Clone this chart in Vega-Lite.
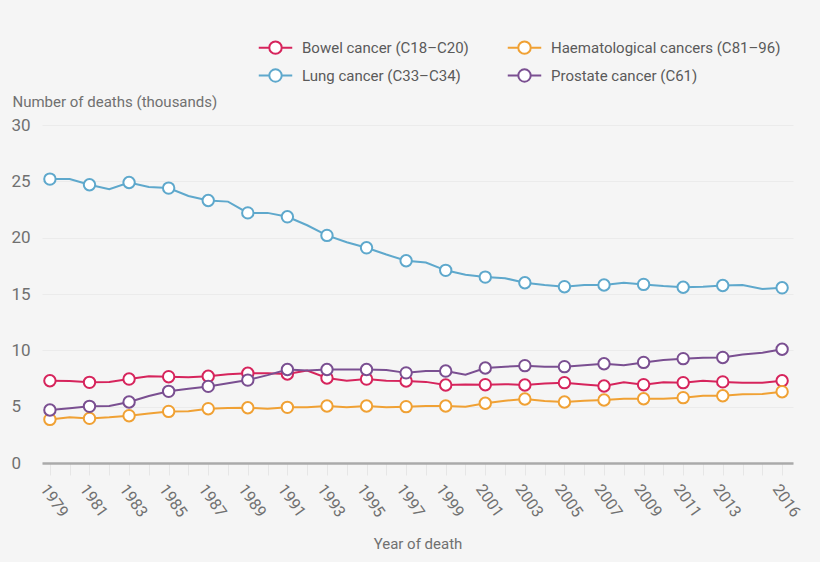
{
  "$schema": "https://vega.github.io/schema/vega-lite/v6.json",
  "width": 751,
  "height": 338,
  "autosize": {"type": "none"},
  "padding": {"left": 42, "top": 125, "right": 27, "bottom": 99},
  "background": "#f5f5f5",
  "config": {
    "view": {"stroke": null},
    "font": "Roboto",
    "axis": {"labelColor": "#707070", "titleColor": "#707070", "labelFont": "Roboto", "titleFont": "Roboto", "titleFontWeight": "normal"},
    "legend": {"labelColor": "#5a5a5a", "labelFont": "Roboto"}
  },
  "data": {
    "values": [
      {"year": 1979, "cancer": "Bowel cancer (C18–C20)", "deaths": 7.3},
      {"year": 1980, "cancer": "Bowel cancer (C18–C20)", "deaths": 7.28},
      {"year": 1981, "cancer": "Bowel cancer (C18–C20)", "deaths": 7.16},
      {"year": 1982, "cancer": "Bowel cancer (C18–C20)", "deaths": 7.2},
      {"year": 1983, "cancer": "Bowel cancer (C18–C20)", "deaths": 7.45},
      {"year": 1984, "cancer": "Bowel cancer (C18–C20)", "deaths": 7.7},
      {"year": 1985, "cancer": "Bowel cancer (C18–C20)", "deaths": 7.66},
      {"year": 1986, "cancer": "Bowel cancer (C18–C20)", "deaths": 7.6},
      {"year": 1987, "cancer": "Bowel cancer (C18–C20)", "deaths": 7.7},
      {"year": 1988, "cancer": "Bowel cancer (C18–C20)", "deaths": 7.87},
      {"year": 1989, "cancer": "Bowel cancer (C18–C20)", "deaths": 7.96},
      {"year": 1990, "cancer": "Bowel cancer (C18–C20)", "deaths": 7.96},
      {"year": 1991, "cancer": "Bowel cancer (C18–C20)", "deaths": 7.9},
      {"year": 1992, "cancer": "Bowel cancer (C18–C20)", "deaths": 8.2},
      {"year": 1993, "cancer": "Bowel cancer (C18–C20)", "deaths": 7.54},
      {"year": 1994, "cancer": "Bowel cancer (C18–C20)", "deaths": 7.3},
      {"year": 1995, "cancer": "Bowel cancer (C18–C20)", "deaths": 7.45},
      {"year": 1996, "cancer": "Bowel cancer (C18–C20)", "deaths": 7.3},
      {"year": 1997, "cancer": "Bowel cancer (C18–C20)", "deaths": 7.28},
      {"year": 1998, "cancer": "Bowel cancer (C18–C20)", "deaths": 7.2},
      {"year": 1999, "cancer": "Bowel cancer (C18–C20)", "deaths": 6.92},
      {"year": 2000, "cancer": "Bowel cancer (C18–C20)", "deaths": 6.97},
      {"year": 2001, "cancer": "Bowel cancer (C18–C20)", "deaths": 6.95},
      {"year": 2002, "cancer": "Bowel cancer (C18–C20)", "deaths": 7.0},
      {"year": 2003, "cancer": "Bowel cancer (C18–C20)", "deaths": 6.92},
      {"year": 2004, "cancer": "Bowel cancer (C18–C20)", "deaths": 7.05},
      {"year": 2005, "cancer": "Bowel cancer (C18–C20)", "deaths": 7.13},
      {"year": 2006, "cancer": "Bowel cancer (C18–C20)", "deaths": 6.97},
      {"year": 2007, "cancer": "Bowel cancer (C18–C20)", "deaths": 6.83},
      {"year": 2008, "cancer": "Bowel cancer (C18–C20)", "deaths": 7.16},
      {"year": 2009, "cancer": "Bowel cancer (C18–C20)", "deaths": 6.95},
      {"year": 2010, "cancer": "Bowel cancer (C18–C20)", "deaths": 7.16},
      {"year": 2011, "cancer": "Bowel cancer (C18–C20)", "deaths": 7.13},
      {"year": 2012, "cancer": "Bowel cancer (C18–C20)", "deaths": 7.3},
      {"year": 2013, "cancer": "Bowel cancer (C18–C20)", "deaths": 7.2},
      {"year": 2014, "cancer": "Bowel cancer (C18–C20)", "deaths": 7.13},
      {"year": 2015, "cancer": "Bowel cancer (C18–C20)", "deaths": 7.13},
      {"year": 2016, "cancer": "Bowel cancer (C18–C20)", "deaths": 7.3},
      {"year": 1979, "cancer": "Haematological cancers (C81–96)", "deaths": 3.87},
      {"year": 1980, "cancer": "Haematological cancers (C81–96)", "deaths": 4.05},
      {"year": 1981, "cancer": "Haematological cancers (C81–96)", "deaths": 3.96},
      {"year": 1982, "cancer": "Haematological cancers (C81–96)", "deaths": 4.05},
      {"year": 1983, "cancer": "Haematological cancers (C81–96)", "deaths": 4.2},
      {"year": 1984, "cancer": "Haematological cancers (C81–96)", "deaths": 4.4},
      {"year": 1985, "cancer": "Haematological cancers (C81–96)", "deaths": 4.58},
      {"year": 1986, "cancer": "Haematological cancers (C81–96)", "deaths": 4.6},
      {"year": 1987, "cancer": "Haematological cancers (C81–96)", "deaths": 4.82},
      {"year": 1988, "cancer": "Haematological cancers (C81–96)", "deaths": 4.88},
      {"year": 1989, "cancer": "Haematological cancers (C81–96)", "deaths": 4.9},
      {"year": 1990, "cancer": "Haematological cancers (C81–96)", "deaths": 4.82},
      {"year": 1991, "cancer": "Haematological cancers (C81–96)", "deaths": 4.94},
      {"year": 1992, "cancer": "Haematological cancers (C81–96)", "deaths": 4.94},
      {"year": 1993, "cancer": "Haematological cancers (C81–96)", "deaths": 5.06},
      {"year": 1994, "cancer": "Haematological cancers (C81–96)", "deaths": 4.94},
      {"year": 1995, "cancer": "Haematological cancers (C81–96)", "deaths": 5.06},
      {"year": 1996, "cancer": "Haematological cancers (C81–96)", "deaths": 4.94},
      {"year": 1997, "cancer": "Haematological cancers (C81–96)", "deaths": 5.0},
      {"year": 1998, "cancer": "Haematological cancers (C81–96)", "deaths": 5.06},
      {"year": 1999, "cancer": "Haematological cancers (C81–96)", "deaths": 5.06},
      {"year": 2000, "cancer": "Haematological cancers (C81–96)", "deaths": 5.0},
      {"year": 2001, "cancer": "Haematological cancers (C81–96)", "deaths": 5.3},
      {"year": 2002, "cancer": "Haematological cancers (C81–96)", "deaths": 5.53},
      {"year": 2003, "cancer": "Haematological cancers (C81–96)", "deaths": 5.68},
      {"year": 2004, "cancer": "Haematological cancers (C81–96)", "deaths": 5.5},
      {"year": 2005, "cancer": "Haematological cancers (C81–96)", "deaths": 5.41},
      {"year": 2006, "cancer": "Haematological cancers (C81–96)", "deaths": 5.53},
      {"year": 2007, "cancer": "Haematological cancers (C81–96)", "deaths": 5.59},
      {"year": 2008, "cancer": "Haematological cancers (C81–96)", "deaths": 5.7},
      {"year": 2009, "cancer": "Haematological cancers (C81–96)", "deaths": 5.7},
      {"year": 2010, "cancer": "Haematological cancers (C81–96)", "deaths": 5.7},
      {"year": 2011, "cancer": "Haematological cancers (C81–96)", "deaths": 5.8},
      {"year": 2012, "cancer": "Haematological cancers (C81–96)", "deaths": 5.97},
      {"year": 2013, "cancer": "Haematological cancers (C81–96)", "deaths": 5.97},
      {"year": 2014, "cancer": "Haematological cancers (C81–96)", "deaths": 6.1},
      {"year": 2015, "cancer": "Haematological cancers (C81–96)", "deaths": 6.12},
      {"year": 2016, "cancer": "Haematological cancers (C81–96)", "deaths": 6.33},
      {"year": 1979, "cancer": "Lung cancer (C33–C34)", "deaths": 25.2},
      {"year": 1980, "cancer": "Lung cancer (C33–C34)", "deaths": 25.2},
      {"year": 1981, "cancer": "Lung cancer (C33–C34)", "deaths": 24.7},
      {"year": 1982, "cancer": "Lung cancer (C33–C34)", "deaths": 24.3},
      {"year": 1983, "cancer": "Lung cancer (C33–C34)", "deaths": 24.9},
      {"year": 1984, "cancer": "Lung cancer (C33–C34)", "deaths": 24.5},
      {"year": 1985, "cancer": "Lung cancer (C33–C34)", "deaths": 24.4},
      {"year": 1986, "cancer": "Lung cancer (C33–C34)", "deaths": 23.7},
      {"year": 1987, "cancer": "Lung cancer (C33–C34)", "deaths": 23.3},
      {"year": 1988, "cancer": "Lung cancer (C33–C34)", "deaths": 23.2},
      {"year": 1989, "cancer": "Lung cancer (C33–C34)", "deaths": 22.2},
      {"year": 1990, "cancer": "Lung cancer (C33–C34)", "deaths": 22.2},
      {"year": 1991, "cancer": "Lung cancer (C33–C34)", "deaths": 21.85},
      {"year": 1992, "cancer": "Lung cancer (C33–C34)", "deaths": 21.1},
      {"year": 1993, "cancer": "Lung cancer (C33–C34)", "deaths": 20.2},
      {"year": 1994, "cancer": "Lung cancer (C33–C34)", "deaths": 19.6},
      {"year": 1995, "cancer": "Lung cancer (C33–C34)", "deaths": 19.1},
      {"year": 1996, "cancer": "Lung cancer (C33–C34)", "deaths": 18.5},
      {"year": 1997, "cancer": "Lung cancer (C33–C34)", "deaths": 17.95},
      {"year": 1998, "cancer": "Lung cancer (C33–C34)", "deaths": 17.8},
      {"year": 1999, "cancer": "Lung cancer (C33–C34)", "deaths": 17.1},
      {"year": 2000, "cancer": "Lung cancer (C33–C34)", "deaths": 16.7},
      {"year": 2001, "cancer": "Lung cancer (C33–C34)", "deaths": 16.5},
      {"year": 2002, "cancer": "Lung cancer (C33–C34)", "deaths": 16.4},
      {"year": 2003, "cancer": "Lung cancer (C33–C34)", "deaths": 16.0},
      {"year": 2004, "cancer": "Lung cancer (C33–C34)", "deaths": 15.8},
      {"year": 2005, "cancer": "Lung cancer (C33–C34)", "deaths": 15.65},
      {"year": 2006, "cancer": "Lung cancer (C33–C34)", "deaths": 15.8},
      {"year": 2007, "cancer": "Lung cancer (C33–C34)", "deaths": 15.8},
      {"year": 2008, "cancer": "Lung cancer (C33–C34)", "deaths": 16.0},
      {"year": 2009, "cancer": "Lung cancer (C33–C34)", "deaths": 15.85},
      {"year": 2010, "cancer": "Lung cancer (C33–C34)", "deaths": 15.7},
      {"year": 2011, "cancer": "Lung cancer (C33–C34)", "deaths": 15.6},
      {"year": 2012, "cancer": "Lung cancer (C33–C34)", "deaths": 15.65},
      {"year": 2013, "cancer": "Lung cancer (C33–C34)", "deaths": 15.75},
      {"year": 2014, "cancer": "Lung cancer (C33–C34)", "deaths": 15.8},
      {"year": 2015, "cancer": "Lung cancer (C33–C34)", "deaths": 15.45},
      {"year": 2016, "cancer": "Lung cancer (C33–C34)", "deaths": 15.55},
      {"year": 1979, "cancer": "Prostate cancer (C61)", "deaths": 4.7},
      {"year": 1980, "cancer": "Prostate cancer (C61)", "deaths": 4.85},
      {"year": 1981, "cancer": "Prostate cancer (C61)", "deaths": 5.03},
      {"year": 1982, "cancer": "Prostate cancer (C61)", "deaths": 5.06},
      {"year": 1983, "cancer": "Prostate cancer (C61)", "deaths": 5.41},
      {"year": 1984, "cancer": "Prostate cancer (C61)", "deaths": 5.95},
      {"year": 1985, "cancer": "Prostate cancer (C61)", "deaths": 6.36},
      {"year": 1986, "cancer": "Prostate cancer (C61)", "deaths": 6.6},
      {"year": 1987, "cancer": "Prostate cancer (C61)", "deaths": 6.8},
      {"year": 1988, "cancer": "Prostate cancer (C61)", "deaths": 7.07},
      {"year": 1989, "cancer": "Prostate cancer (C61)", "deaths": 7.36},
      {"year": 1990, "cancer": "Prostate cancer (C61)", "deaths": 7.8},
      {"year": 1991, "cancer": "Prostate cancer (C61)", "deaths": 8.3},
      {"year": 1992, "cancer": "Prostate cancer (C61)", "deaths": 8.2},
      {"year": 1993, "cancer": "Prostate cancer (C61)", "deaths": 8.3},
      {"year": 1994, "cancer": "Prostate cancer (C61)", "deaths": 8.3},
      {"year": 1995, "cancer": "Prostate cancer (C61)", "deaths": 8.3},
      {"year": 1996, "cancer": "Prostate cancer (C61)", "deaths": 8.25},
      {"year": 1997, "cancer": "Prostate cancer (C61)", "deaths": 8.0},
      {"year": 1998, "cancer": "Prostate cancer (C61)", "deaths": 8.16},
      {"year": 1999, "cancer": "Prostate cancer (C61)", "deaths": 8.16},
      {"year": 2000, "cancer": "Prostate cancer (C61)", "deaths": 7.84},
      {"year": 2001, "cancer": "Prostate cancer (C61)", "deaths": 8.43},
      {"year": 2002, "cancer": "Prostate cancer (C61)", "deaths": 8.55},
      {"year": 2003, "cancer": "Prostate cancer (C61)", "deaths": 8.64},
      {"year": 2004, "cancer": "Prostate cancer (C61)", "deaths": 8.55},
      {"year": 2005, "cancer": "Prostate cancer (C61)", "deaths": 8.55},
      {"year": 2006, "cancer": "Prostate cancer (C61)", "deaths": 8.67},
      {"year": 2007, "cancer": "Prostate cancer (C61)", "deaths": 8.81},
      {"year": 2008, "cancer": "Prostate cancer (C61)", "deaths": 8.67},
      {"year": 2009, "cancer": "Prostate cancer (C61)", "deaths": 8.93},
      {"year": 2010, "cancer": "Prostate cancer (C61)", "deaths": 9.14},
      {"year": 2011, "cancer": "Prostate cancer (C61)", "deaths": 9.26},
      {"year": 2012, "cancer": "Prostate cancer (C61)", "deaths": 9.34},
      {"year": 2013, "cancer": "Prostate cancer (C61)", "deaths": 9.37},
      {"year": 2014, "cancer": "Prostate cancer (C61)", "deaths": 9.64},
      {"year": 2015, "cancer": "Prostate cancer (C61)", "deaths": 9.79},
      {"year": 2016, "cancer": "Prostate cancer (C61)", "deaths": 10.1}
    ]
  },
  "encoding": {
    "x": {
      "field": "year",
      "type": "quantitative",
      "scale": {"domain": [1978.6, 2016.55], "nice": false, "zero": false},
      "axis": {
        "title": "Year of death",
        "titleFontSize": 15,
        "titlePadding": 17,
        "values": [1979, 1980, 1981, 1982, 1983, 1984, 1985, 1986, 1987, 1988, 1989, 1990, 1991, 1992, 1993, 1994, 1995, 1996, 1997, 1998, 1999, 2000, 2001, 2002, 2003, 2004, 2005, 2006, 2007, 2008, 2009, 2010, 2011, 2012, 2013, 2014, 2015, 2016],
        "format": "d",
        "labelExpr": "(datum.value % 2 == 1 && datum.value < 2015) || datum.value == 2016 ? datum.label : ''",
        "labelAngle": 55,
        "labelAlign": "left",
        "labelBaseline": "top",
        "labelFontSize": 16,
        "labelPadding": 6,
        "labelOverlap": false,
        "labelFlush": false,
        "grid": false,
        "tickSize": 12,
        "tickColor": "#e6e6e6",
        "tickWidth": 1,
        "domainColor": "#aaaaaa",
        "domainWidth": 2.5
      }
    },
    "y": {
      "field": "deaths",
      "type": "quantitative",
      "scale": {"domain": [0, 30], "nice": false},
      "axis": {
        "title": "Number of deaths (thousands)",
        "titleAngle": 0,
        "titleAlign": "left",
        "titleBaseline": "middle",
        "titleX": -30,
        "titleY": -24,
        "titleFontSize": 15,
        "values": [0, 5, 10, 15, 20, 25, 30],
        "labelAlign": "left",
        "labelBaseline": "middle",
        "labelPadding": 31,
        "labelFontSize": 17,
        "domain": false,
        "ticks": false,
        "grid": true,
        "gridColor": "#ebebeb",
        "gridWidth": 1
      }
    },
    "color": {
      "field": "cancer",
      "type": "nominal",
      "scale": {
        "domain": ["Bowel cancer (C18–C20)", "Haematological cancers (C81–96)", "Lung cancer (C33–C34)", "Prostate cancer (C61)"],
        "range": ["#d6245c", "#f0a134", "#5ea8cc", "#7a4f91"]
      },
      "legend": {
        "title": null,
        "orient": "none",
        "legendX": 220,
        "legendY": -91,
        "direction": "horizontal",
        "columns": 2,
        "columnPadding": 34,
        "rowPadding": 4,
        "padding": 0,
        "labelFontSize": 15,
        "labelOffset": 13,
        "labelLimit": 400,
        "symbolType": "M-1.35,0L-0.5,0M0.5,0L1.35,0M0.5,0A0.5,0.5,0,1,1,-0.5,0A0.5,0.5,0,1,1,0.5,0Z",
        "symbolSize": 615,
        "symbolStrokeWidth": 2,
        "encode": {"symbols": {"update": {"fill": {"value": "white"}, "fillOpacity": {"value": 1}}}}
      }
    }
  },
  "layer": [
    {
      "mark": {"type": "line", "strokeWidth": 2}
    },
    {
      "transform": [{"filter": "(datum.year % 2 == 1 && datum.year < 2015) || datum.year == 2016"}],
      "mark": {"type": "point", "filled": false, "fill": "white", "fillOpacity": 1, "size": 130, "strokeWidth": 2, "opacity": 1}
    }
  ]
}
